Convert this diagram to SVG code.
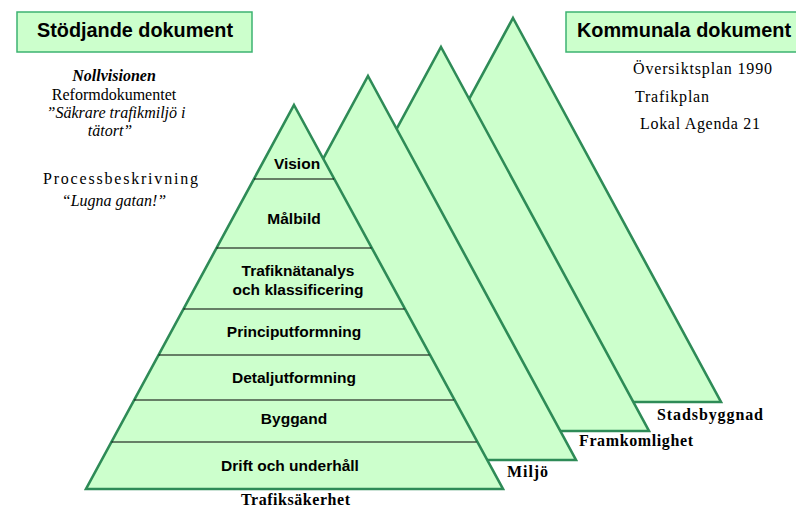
<svg xmlns="http://www.w3.org/2000/svg" width="796" height="508" viewBox="0 0 796 508">
<style>
.tri{fill:#ccffcc;stroke:#2e8b57;stroke-width:2.6;stroke-linejoin:miter}
.box{fill:#ccffcc;stroke:#3cb371;stroke-width:1.5}
.ttl{font-family:"Liberation Sans",Arial,sans-serif;font-weight:bold;font-size:20px;fill:#000}
.lvl{font-family:"Liberation Sans",Arial,sans-serif;font-weight:bold;font-size:15.5px;fill:#000;text-anchor:middle}
.sep{stroke:#000;stroke-width:1.2}
.tm{font-family:"Liberation Serif","Times New Roman",serif;font-size:16px;fill:#000}
.tb{font-family:"Liberation Serif","Times New Roman",serif;font-size:16px;font-weight:bold;fill:#000}
.it{font-style:italic}
.mid{text-anchor:middle}
</style>
<rect width="796" height="508" fill="#fff"/>
<g id="box-stodjande">
<rect class="box" x="17" y="12" width="235" height="40"/>
<text class="ttl" x="37" y="37" textLength="196" lengthAdjust="spacingAndGlyphs">Stödjande dokument</text>
</g>
<g id="box-kommunala">
<rect class="box" x="566" y="12" width="232" height="40"/>
<text class="ttl" x="577" y="37" textLength="214" lengthAdjust="spacingAndGlyphs">Kommunala dokument</text>
</g>
<g id="text-stodjande">
<text class="tm it mid" x="114" y="81" font-weight="bold">Nollvisionen</text>
<text class="tm mid" x="114" y="100">Reformdokumentet</text>
<text class="tm it mid" x="116" y="118">”Säkrare trafikmiljö i</text>
<text class="tm it mid" x="110" y="136">tätort”</text>
<text class="tm" x="43" y="184" textLength="155" lengthAdjust="spacing">Processbeskrivning</text>
<text class="tm it mid" x="114" y="206">“Lugna gatan!”</text>
</g>
<g id="text-kommunala">
<text class="tm" x="633" y="74" textLength="139" lengthAdjust="spacing">Översiktsplan 1990</text>
<text class="tm" x="635" y="102" textLength="74" lengthAdjust="spacing">Trafikplan</text>
<text class="tm" x="640" y="129" textLength="120" lengthAdjust="spacing">Lokal Agenda 21</text>
</g>
<g id="tri-stadsbyggnad">
<polygon class="tri" points="513,18 721,402 305,402"/>
<text class="tb" x="657" y="420" textLength="106" lengthAdjust="spacing">Stadsbyggnad</text>
</g>
<g id="tri-framkomlighet">
<polygon class="tri" points="441,47 649,431 233,431"/>
<text class="tb" x="579" y="446" textLength="114" lengthAdjust="spacing">Framkomlighet</text>
</g>
<g id="tri-miljo">
<polygon class="tri" points="368,76 576,460 160,460"/>
<text class="tb" x="507" y="477" textLength="41" lengthAdjust="spacing">Miljö</text>
</g>
<g id="tri-trafiksakerhet">
<polygon class="tri" points="294,105 503,489 86,489"/>
<text class="tb" x="241" y="505" textLength="109" lengthAdjust="spacing">Trafiksäkerhet</text>
</g>
<g id="levels">
<line class="sep" x1="254" y1="179" x2="334" y2="179"/>
<line class="sep" x1="216.5" y1="248" x2="371.5" y2="248"/>
<line class="sep" x1="183.5" y1="309" x2="404.5" y2="309"/>
<line class="sep" x1="158.6" y1="355" x2="429.4" y2="355"/>
<line class="sep" x1="134.2" y1="400" x2="453.8" y2="400"/>
<line class="sep" x1="111.5" y1="442" x2="476.5" y2="442"/>
</g>
<g id="level-vision"><text class="lvl" x="297" y="169">Vision</text></g>
<g id="level-malbild"><text class="lvl" x="294" y="224">Målbild</text></g>
<g id="level-trafiknat"><text class="lvl" x="298" y="276">Trafiknätanalys</text><text class="lvl" x="298" y="295">och klassificering</text></g>
<g id="level-princip"><text class="lvl" x="294" y="337">Principutformning</text></g>
<g id="level-detalj"><text class="lvl" x="294" y="383">Detaljutformning</text></g>
<g id="level-byggand"><text class="lvl" x="294" y="424">Byggand</text></g>
<g id="level-drift"><text class="lvl" x="290" y="471">Drift och underhåll</text></g>
</svg>
